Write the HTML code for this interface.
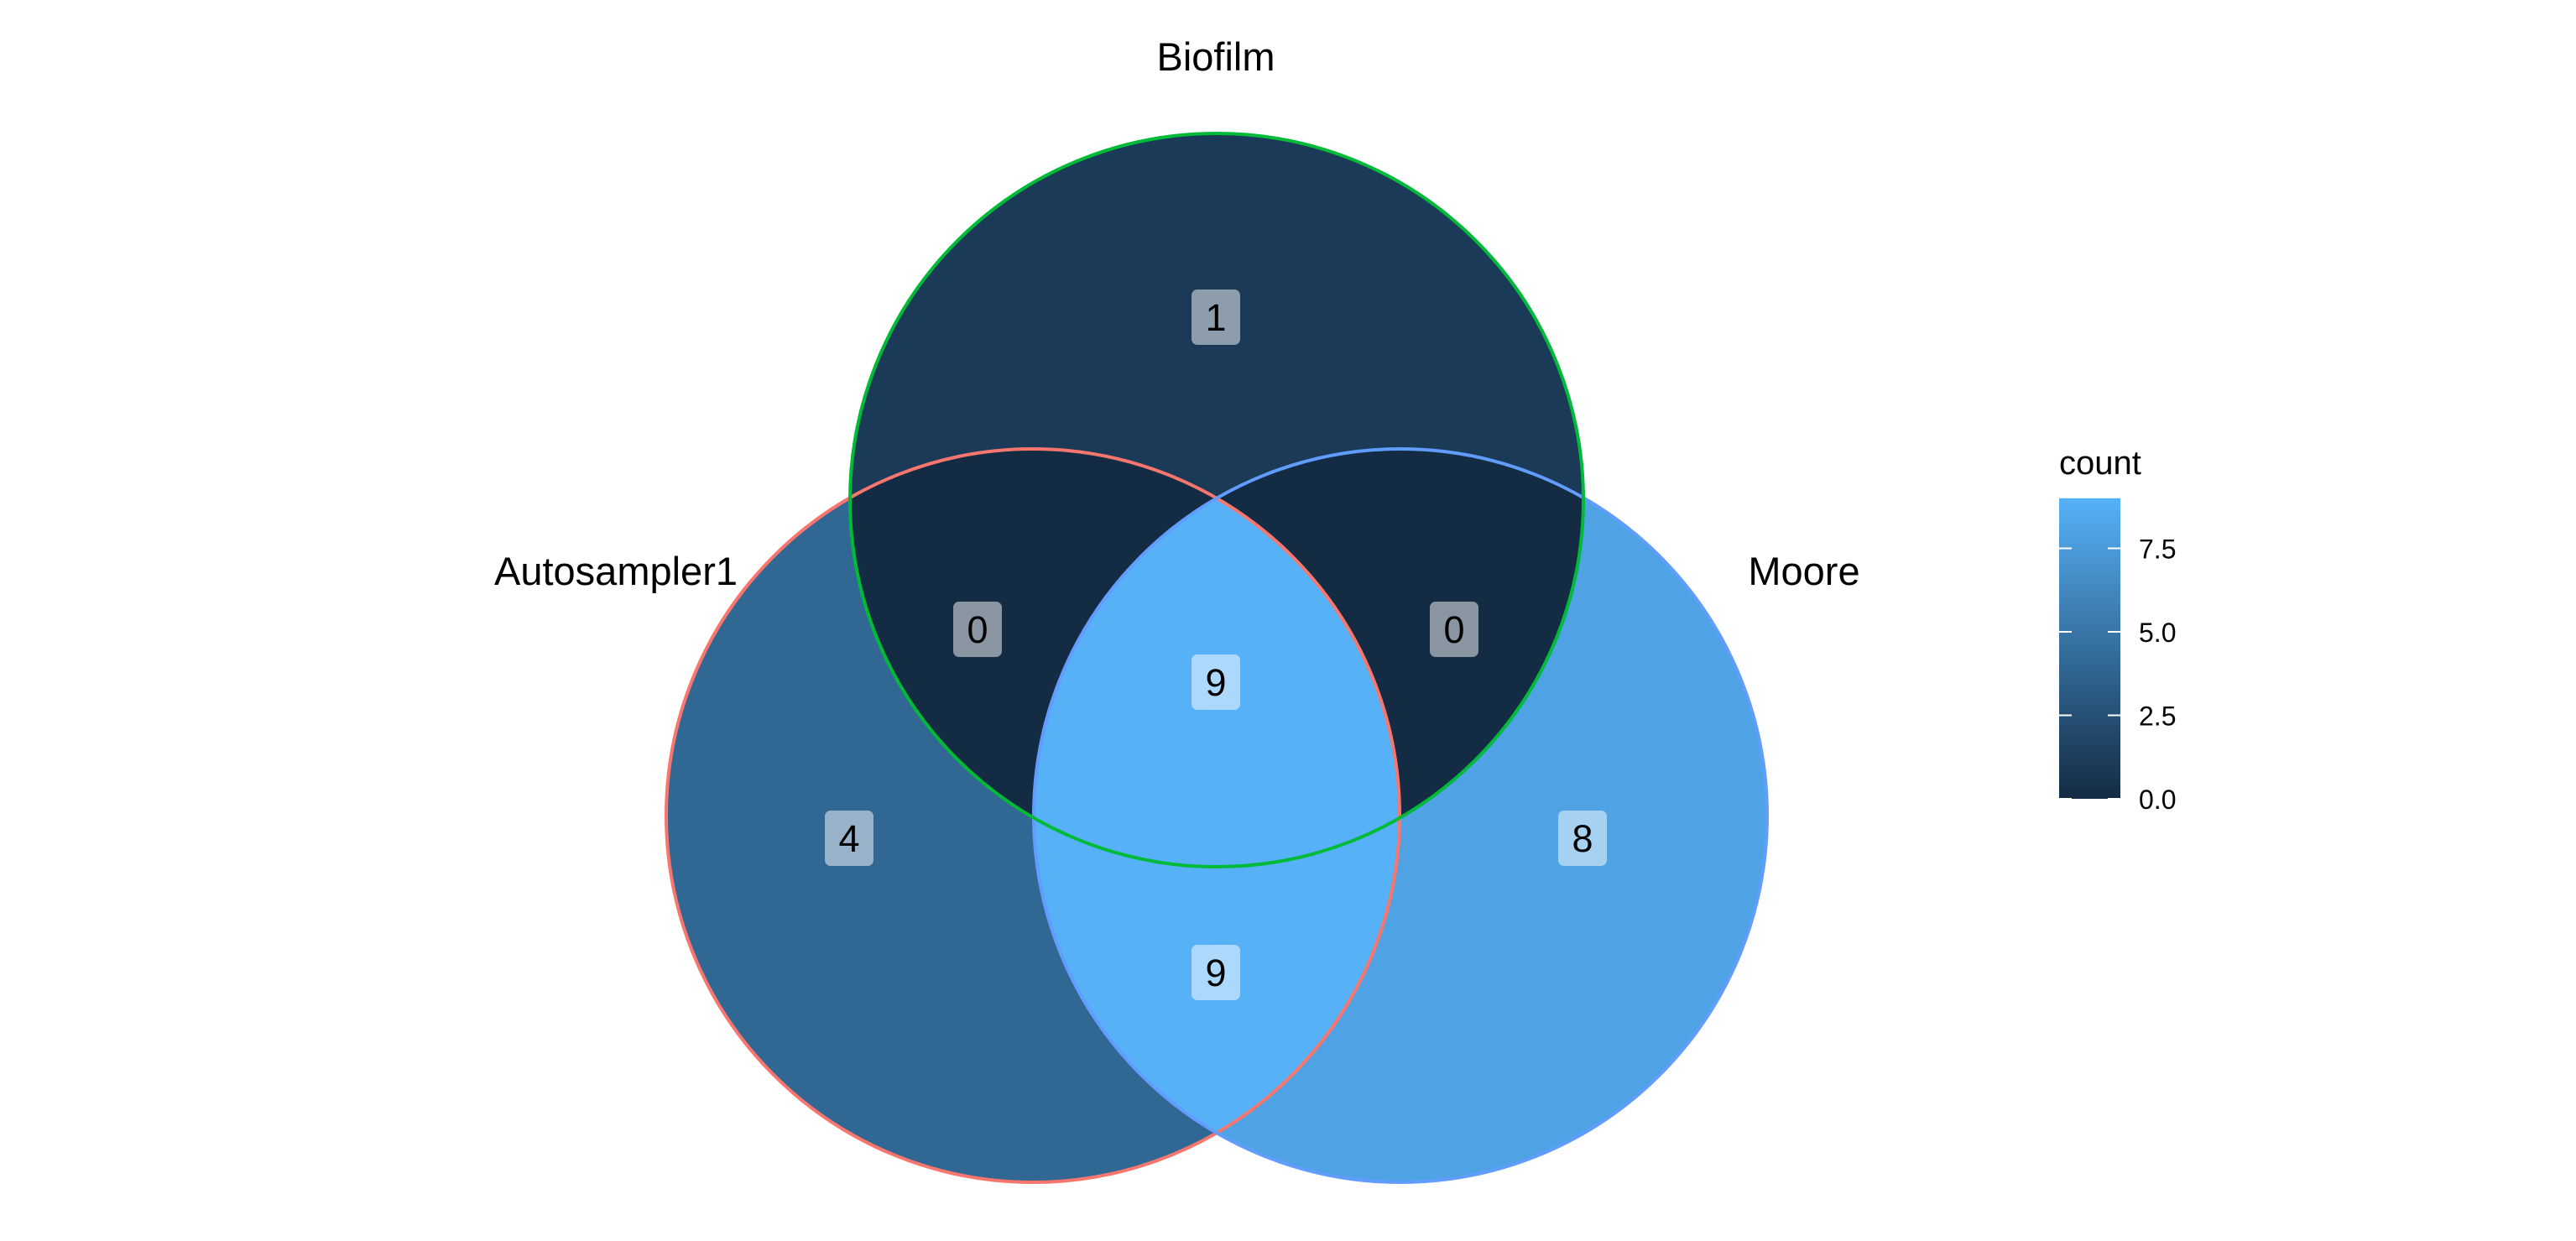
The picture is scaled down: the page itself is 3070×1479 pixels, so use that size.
<!DOCTYPE html>
<html><head><meta charset="utf-8"><style>
html,body{margin:0;padding:0;background:#fff;}
svg{display:block;font-family:"Liberation Sans",Arial,sans-serif;}
</style></head><body>
<svg id="chart" width="3070" height="1479" viewBox="0 0 3070 1479" xmlns="http://www.w3.org/2000/svg">
<defs id="defs"></defs>
<g id="regions"></g>
<g id="outlines"></g>
<g id="labels"></g>
<g id="setnames"></g>
<g id="legend"></g>
</svg>
<script>
const setNames = ["Autosampler1", "Biofilm", "Moore"];
const regionKeys = ["A", "B", "M", "AB", "BM", "AM", "ABM"];
const regionCounts = [4, 1, 8, 0, 0, 9, 9];
const legendTicks = [0, 2.5, 5, 7.5];
const legendTickLabels = ["0.0", "2.5", "5.0", "7.5"];

const NS = "http://www.w3.org/2000/svg";
const R = 437;
const circles = {A:{cx:1231,cy:972,stroke:"#F8766D"},B:{cx:1450,cy:596,stroke:"#00BA38"},M:{cx:1669,cy:972,stroke:"#619CFF"}};
const letters = ["A","B","M"];
const maxC = Math.max(...regionCounts);
const low=[19,43,67], high=[86,177,247];
function col(v){const t=v/maxC;return "rgb("+low.map((l,i)=>Math.round(l+(high[i]-l)*t)).join(",")+")";}
function el(tag, attrs, parent){const e=document.createElementNS(NS,tag);for(const k in attrs)e.setAttribute(k,attrs[k]);parent&&parent.appendChild(e);return e;}
const defs=document.getElementById("defs");
letters.forEach(L=>{const cp=el("clipPath",{id:"clip"+L},defs);el("circle",{cx:circles[L].cx,cy:circles[L].cy,r:R},cp);});
const regG=document.getElementById("regions");
regionKeys.forEach((key,i)=>{
  const inc=key.split(""), exc=letters.filter(l=>!inc.includes(l));
  const m=el("mask",{id:"mask"+key},defs);
  el("rect",{x:0,y:0,width:3070,height:1479,fill:"#fff"},m);
  exc.forEach(L=>el("circle",{cx:circles[L].cx,cy:circles[L].cy,r:R,fill:"#000"},m));
  let parent=regG;
  inc.forEach(L=>{parent=el("g",{"clip-path":"url(#clip"+L+")"},parent);});
  const r=el("rect",{x:0,y:0,width:3070,height:1479,fill:col(regionCounts[i]),mask:"url(#mask"+key+")"},parent);
  
  
});
const outG=document.getElementById("outlines");
["A","M","B"].forEach(L=>{const c=el("circle",{cx:circles[L].cx,cy:circles[L].cy,r:R,fill:"none",stroke:circles[L].stroke,"stroke-width":4},outG);
  
  });
const labelPos={A:[1012,999],B:[1449,378],M:[1886,999],AB:[1165,750],BM:[1733,750],AM:[1449,1159],ABM:[1449,813]};
const labG=document.getElementById("labels");
regionKeys.forEach((key,i)=>{
  const [x,y]=labelPos[key];
  const g=el("g",{},labG);
  
  
  el("rect",{x:x-29,y:y-33,width:58,height:66,rx:7,fill:"rgba(255,255,255,0.5)"},g);
  const t=el("text",{x:x,y:y+16,"text-anchor":"middle","font-size":45,fill:"#000"},g);
  t.textContent=regionCounts[i];
});
const snG=document.getElementById("setnames");
[[setNames[0],734,697],[setNames[1],1449,84],[setNames[2],2150,697]].forEach(([n,x,y])=>{
  const t=el("text",{x:x,y:y,"text-anchor":"middle","font-size":47,fill:"#000"},snG);
  
  
  t.textContent=n;
});
const lg=document.getElementById("legend");
const barX=2454,barW=73,y0=952,pxPer=39.8;
const ly=v=>y0-v*pxPer;
const grad=el("linearGradient",{id:"lgrad",x1:0,y1:1,x2:0,y2:0},defs);
el("stop",{offset:0,"stop-color":col(0)},grad);el("stop",{offset:1,"stop-color":col(maxC)},grad);
const title=el("text",{x:barX,y:565,"font-size":40,fill:"#000"},lg);title.textContent="count";


const bar=el("rect",{x:barX,y:ly(maxC),width:barW,height:ly(0)-ly(maxC),fill:"url(#lgrad)"},lg);


legendTicks.forEach((v,i)=>{
  const y=ly(v);
  el("line",{x1:barX,x2:barX+15,y1:y,y2:y,stroke:"#fff","stroke-width":2},lg);
  el("line",{x1:barX+barW-15,x2:barX+barW,y1:y,y2:y,stroke:"#fff","stroke-width":2},lg);
  const t=el("text",{x:2549,y:y+12,"font-size":32,fill:"#000"},lg);
  
  
  t.textContent=legendTickLabels[i];
});
</script>
</body></html>
